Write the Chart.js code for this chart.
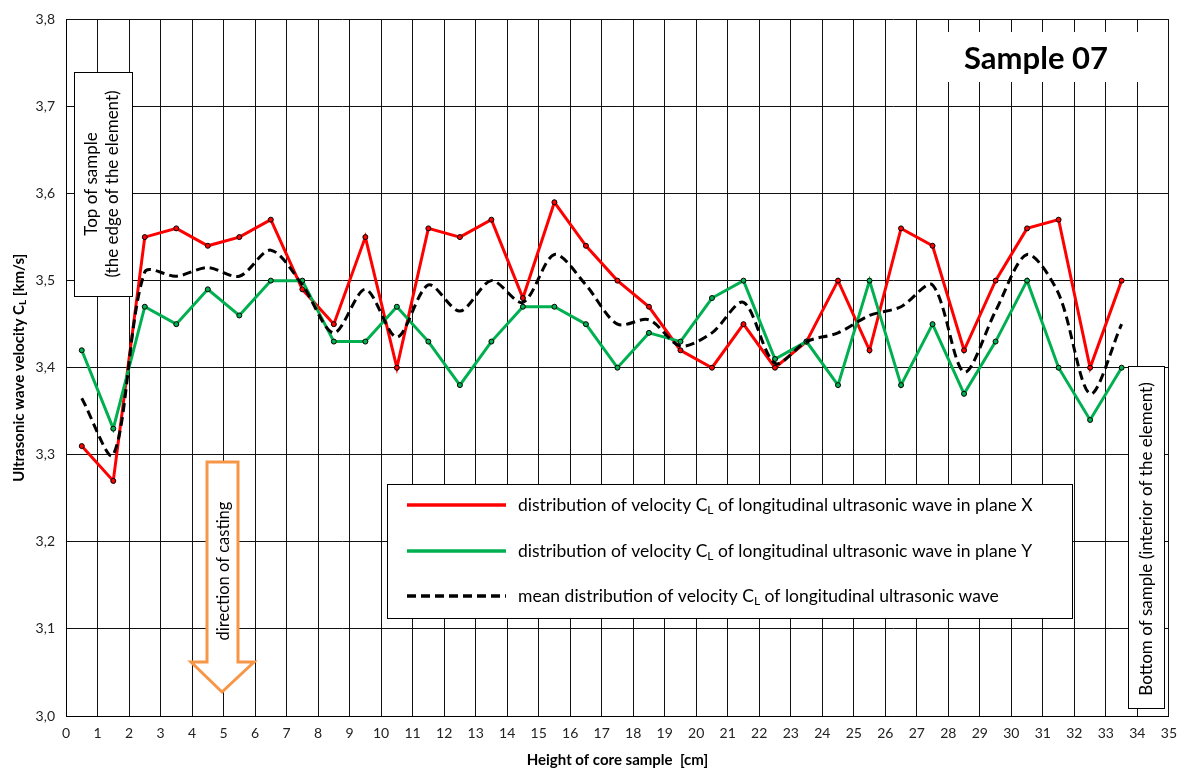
<!DOCTYPE html>
<html>
<head>
<meta charset="utf-8">
<script src="https://cdn.jsdelivr.net/npm/chart.js@4"></script>
<style>
  html, body { margin: 0; padding: 0; background: #fff; }
  #wrap { width: 1186px; height: 773px; }
</style>
</head>
<body>
<div id="wrap"><canvas id="c" width="1186" height="773"></canvas></div>
<script>
// Measurement positions along the core [cm]
const positions = [0.5, 1.5, 2.5, 3.5, 4.5, 5.5, 6.5, 7.5, 8.5, 9.5, 10.5, 11.5, 12.5, 13.5, 14.5, 15.5, 16.5,
  17.5, 18.5, 19.5, 20.5, 21.5, 22.5, 23.5, 24.5, 25.5, 26.5, 27.5, 28.5, 29.5, 30.5, 31.5, 32.5, 33.5];

// Longitudinal wave velocity C_L [km/s], plane X
const velocityX = [3.31, 3.27, 3.55, 3.56, 3.54, 3.55, 3.57, 3.49, 3.45, 3.55, 3.40, 3.56, 3.55, 3.57, 3.48, 3.59, 3.54,
  3.50, 3.47, 3.42, 3.40, 3.45, 3.40, 3.43, 3.50, 3.42, 3.56, 3.54, 3.42, 3.50, 3.56, 3.57, 3.40, 3.50];

// Longitudinal wave velocity C_L [km/s], plane Y
const velocityY = [3.42, 3.33, 3.47, 3.45, 3.49, 3.46, 3.50, 3.50, 3.43, 3.43, 3.47, 3.43, 3.38, 3.43, 3.47, 3.47, 3.45,
  3.40, 3.44, 3.43, 3.48, 3.50, 3.41, 3.43, 3.38, 3.50, 3.38, 3.45, 3.37, 3.43, 3.50, 3.40, 3.34, 3.40];

// Mean velocity C_L [km/s]
const velocityMean = [3.365, 3.30, 3.51, 3.505, 3.515, 3.505, 3.535, 3.495, 3.44, 3.49, 3.435, 3.495, 3.465, 3.50, 3.475, 3.53, 3.495,
  3.45, 3.455, 3.425, 3.44, 3.475, 3.405, 3.43, 3.44, 3.46, 3.47, 3.495, 3.395, 3.465, 3.53, 3.485, 3.37, 3.45];

// Axis ranges and tick steps
const xRange = [0, 35];
const xStep = 1;
const yRange = [3.0, 3.8];
const yStep = 0.1;

// Legend texts (main part, subscript, remainder)
const legendTexts = [
  ['distribution of velocity C', 'L', ' of longitudinal ultrasonic wave in plane X'],
  ['distribution of velocity C', 'L', ' of longitudinal ultrasonic wave in plane Y'],
  ['mean distribution of velocity C', 'L', ' of longitudinal ultrasonic wave']
];

const FONT = 'Lato, "Open Sans", sans-serif';
const RED = '#ff0000';
const GREEN = '#00b050';
const ORANGE = '#f79646';

function toPoints(values) {
  return positions.map((x, i) => ({ x: x, y: values[i] }));
}

// Draws "main" + subscript + "rest" starting at x, vertically centred on y
function drawSubText(ctx, parts, x, y, size, bold) {
  const w = bold ? 'bold ' : '';
  ctx.font = w + size + 'px ' + FONT;
  ctx.textBaseline = 'middle';
  ctx.textAlign = 'left';
  ctx.fillText(parts[0], x, y);
  let cx = x + ctx.measureText(parts[0]).width;
  ctx.font = w + Math.round(size * 0.68) + 'px ' + FONT;
  ctx.fillText(parts[1], cx, y + size * 0.28);
  cx += ctx.measureText(parts[1]).width;
  ctx.font = w + size + 'px ' + FONT;
  ctx.fillText(parts[2], cx, y);
  return cx + ctx.measureText(parts[2]).width;
}

function subTextWidth(ctx, parts, size, bold) {
  const w = bold ? 'bold ' : '';
  ctx.font = w + size + 'px ' + FONT;
  let t = ctx.measureText(parts[0]).width + ctx.measureText(parts[2]).width;
  ctx.font = w + Math.round(size * 0.68) + 'px ' + FONT;
  return t + ctx.measureText(parts[1]).width;
}

const decorations = {
  id: 'decorations',
  afterDraw(chart) {
    const ctx = chart.ctx;
    const area = chart.chartArea;
    ctx.save();
    ctx.fillStyle = '#000';

    // Axis titles
    ctx.font = 'bold 15px ' + FONT;
    ctx.textAlign = 'center';
    ctx.textBaseline = 'middle';
    ctx.fillText('Height of core sample  [cm]', (area.left + area.right) / 2, 760);

    const yTitle = ['Ultrasonic wave velocity C', 'L', ' [km/s]'];
    ctx.save();
    ctx.translate(19, (area.top + area.bottom) / 2);
    ctx.rotate(-Math.PI / 2);
    const tw = subTextWidth(ctx, yTitle, 15, true);
    drawSubText(ctx, yTitle, -tw / 2, 0, 15, true);
    ctx.restore();

    // "Sample 07" label
    ctx.fillStyle = '#fff';
    ctx.fillRect(918, 32, 246, 50);
    ctx.fillStyle = '#000';
    ctx.font = 'bold 31px ' + FONT;
    ctx.textAlign = 'center';
    ctx.textBaseline = 'middle';
    ctx.fillText('Sample 07', 1036, 59);

    // Top-of-sample box
    ctx.fillStyle = '#fff';
    ctx.fillRect(74, 72, 58, 224);
    ctx.strokeStyle = '#000';
    ctx.lineWidth = 1;
    ctx.strokeRect(74.5, 72.5, 58, 224);
    ctx.save();
    ctx.translate(103, 184);
    ctx.rotate(-Math.PI / 2);
    ctx.fillStyle = '#000';
    ctx.font = '17px ' + FONT;
    ctx.textAlign = 'center';
    ctx.textBaseline = 'middle';
    ctx.fillText('Top of sample', 0, -11);
    ctx.fillText('(the edge of the element)', 0, 10);
    ctx.restore();

    // Bottom-of-sample box
    ctx.fillStyle = '#fff';
    ctx.fillRect(1128, 366, 36, 342);
    ctx.strokeRect(1128.5, 366.5, 36, 342);
    ctx.save();
    ctx.translate(1147, 539);
    ctx.rotate(-Math.PI / 2);
    ctx.fillStyle = '#000';
    ctx.font = '17px ' + FONT;
    ctx.textAlign = 'center';
    ctx.textBaseline = 'middle';
    ctx.fillText('Bottom of sample (interior of the element)', 0, 0);
    ctx.restore();

    // Casting direction arrow
    ctx.beginPath();
    ctx.moveTo(207, 462);
    ctx.lineTo(238, 462);
    ctx.lineTo(238, 662);
    ctx.lineTo(254, 662);
    ctx.lineTo(222, 692);
    ctx.lineTo(191, 662);
    ctx.lineTo(207, 662);
    ctx.closePath();
    ctx.fillStyle = '#fff';
    ctx.fill();
    ctx.strokeStyle = ORANGE;
    ctx.lineWidth = 3;
    ctx.lineJoin = 'miter';
    ctx.stroke();
    ctx.save();
    ctx.translate(224, 571);
    ctx.rotate(-Math.PI / 2);
    ctx.fillStyle = '#000';
    ctx.font = '16.5px ' + FONT;
    ctx.textAlign = 'center';
    ctx.textBaseline = 'middle';
    ctx.fillText('direction of casting', 0, 0);
    ctx.restore();

    // Legend
    ctx.fillStyle = '#fff';
    ctx.fillRect(387, 484, 685, 134);
    ctx.strokeStyle = '#000';
    ctx.lineWidth = 1;
    ctx.strokeRect(387.5, 484.5, 685, 134);
    const rowsY = [505, 551, 596];
    chart.data.datasets.forEach((ds, i) => {
      const y = rowsY[i];
      ctx.save();
      ctx.strokeStyle = ds.borderColor;
      ctx.lineWidth = 3.5;
      ctx.setLineDash(ds.borderDash || []);
      ctx.beginPath();
      ctx.moveTo(407, y);
      ctx.lineTo(506, y);
      ctx.stroke();
      ctx.restore();
      ctx.fillStyle = '#000';
      drawSubText(ctx, legendTexts[i], 518, y, 17.5, false);
    });

    ctx.restore();
  }
};

new Chart(document.getElementById('c'), {
  type: 'line',
  data: {
    datasets: [
      {
        label: 'plane X',
        data: toPoints(velocityX),
        borderColor: RED,
        backgroundColor: RED,
        borderWidth: 3,
        pointRadius: 2.5,
        pointBorderColor: '#000',
        pointBackgroundColor: RED,
        pointBorderWidth: 1,
        tension: 0,
        order: 2
      },
      {
        label: 'plane Y',
        data: toPoints(velocityY),
        borderColor: GREEN,
        backgroundColor: GREEN,
        borderWidth: 3,
        pointRadius: 2.5,
        pointBorderColor: '#000',
        pointBackgroundColor: GREEN,
        pointBorderWidth: 1,
        tension: 0,
        order: 1
      },
      {
        label: 'mean',
        data: toPoints(velocityMean),
        borderColor: '#000',
        backgroundColor: '#000',
        borderWidth: 3,
        borderDash: [9, 5],
        pointRadius: 0,
        tension: 0.3,
        order: 0
      }
    ]
  },
  options: {
    responsive: false,
    animation: false,
    events: [],
    layout: { padding: { top: 18, right: 16, left: 0, bottom: 0 } },
    plugins: {
      legend: { display: false },
      tooltip: { enabled: false },
      title: { display: false }
    },
    scales: {
      x: {
        type: 'linear',
        min: xRange[0],
        max: xRange[1],
        afterFit(scale) { scale.height = 57; },
        grid: { color: '#111', lineWidth: 1, drawTicks: false },
        border: { color: '#000', width: 1 },
        ticks: {
          stepSize: xStep,
          padding: 9,
          color: '#222',
          font: { family: FONT, size: 14 },
          maxRotation: 0,
          autoSkip: false
        }
      },
      y: {
        type: 'linear',
        min: yRange[0],
        max: yRange[1],
        afterFit(scale) { scale.width = 66; },
        grid: { color: '#111', lineWidth: 1, drawTicks: false },
        border: { color: '#000', width: 1 },
        ticks: {
          stepSize: yStep,
          padding: 11,
          color: '#222',
          font: { family: FONT, size: 14 },
          callback: (v) => v.toFixed(1).replace('.', ',')
        }
      }
    }
  },
  plugins: [decorations]
});
</script>
</body>
</html>
